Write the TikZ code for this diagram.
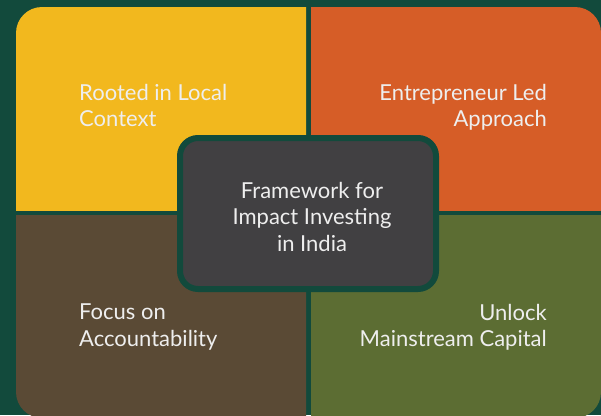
\documentclass[tikz,border=0pt]{standalone}
\usepackage{fontspec}
\setmainfont{Lato}
\definecolor{bggreen}{RGB}{18,74,60}
\definecolor{quadyellow}{RGB}{242,184,30}
\definecolor{quadorange}{RGB}{214,93,39}
\definecolor{quadbrown}{RGB}{90,74,53}
\definecolor{quadolive}{RGB}{92,109,51}
\definecolor{coregray}{RGB}{65,64,66}
\definecolor{labeltext}{RGB}{238,238,238}
\tikzset{
  quadlabel/.style={text=labeltext, inner sep=0pt, font=\fontsize{22}{26.5}\selectfont},
}
\begin{document}
\begin{tikzpicture}[x=1pt,y=1pt,yscale=-1,xscale=1]
\useasboundingbox (0,0) rectangle (601,415);
%Background
\fill[bggreen] (0,0) rectangle (601,415);

%Shape: Quadrant top left
\begin{scope}
\clip (16,7) rectangle (306,210);
\fill[quadyellow, rounded corners=26] (16,7) rectangle (601,418);
\end{scope}
%Shape: Quadrant top right
\begin{scope}
\clip (311,7) rectangle (601,210);
\fill[quadorange, rounded corners=26] (16,7) rectangle (601,418);
\end{scope}
%Shape: Quadrant bottom left
\begin{scope}
\clip (16,215) rectangle (306,415);
\fill[quadbrown, rounded corners=26] (16,7) rectangle (601,418);
\end{scope}
%Shape: Quadrant bottom right
\begin{scope}
\clip (311,215) rectangle (601,415);
\fill[quadolive, rounded corners=26] (16,7) rectangle (601,418);
\end{scope}

%Shape: Center box
\node (core) [draw=bggreen, line width=6pt, fill=coregray, rounded corners=18, minimum width=256, minimum height=151] at (308,213.5) {};

% Text Node
\node (rooted) [quadlabel, anchor=north west, align=left] at (79,84) {Rooted in Local\\Context};
\node (entrepreneur) [quadlabel, anchor=north east, align=right] at (547,84) {Entrepreneur Led\\Approach};
\node (focus) [quadlabel, anchor=north west, align=left] at (79,304) {Focus on\\Accountability};
\node (unlock) [quadlabel, anchor=north east, align=right] at (547,304) {Unlock\\Mainstream Capital};
\node (framework) [quadlabel, anchor=north, align=center] at (312,182) {Framework for\\Impact Investing\\in India};

\end{tikzpicture}
\end{document}
